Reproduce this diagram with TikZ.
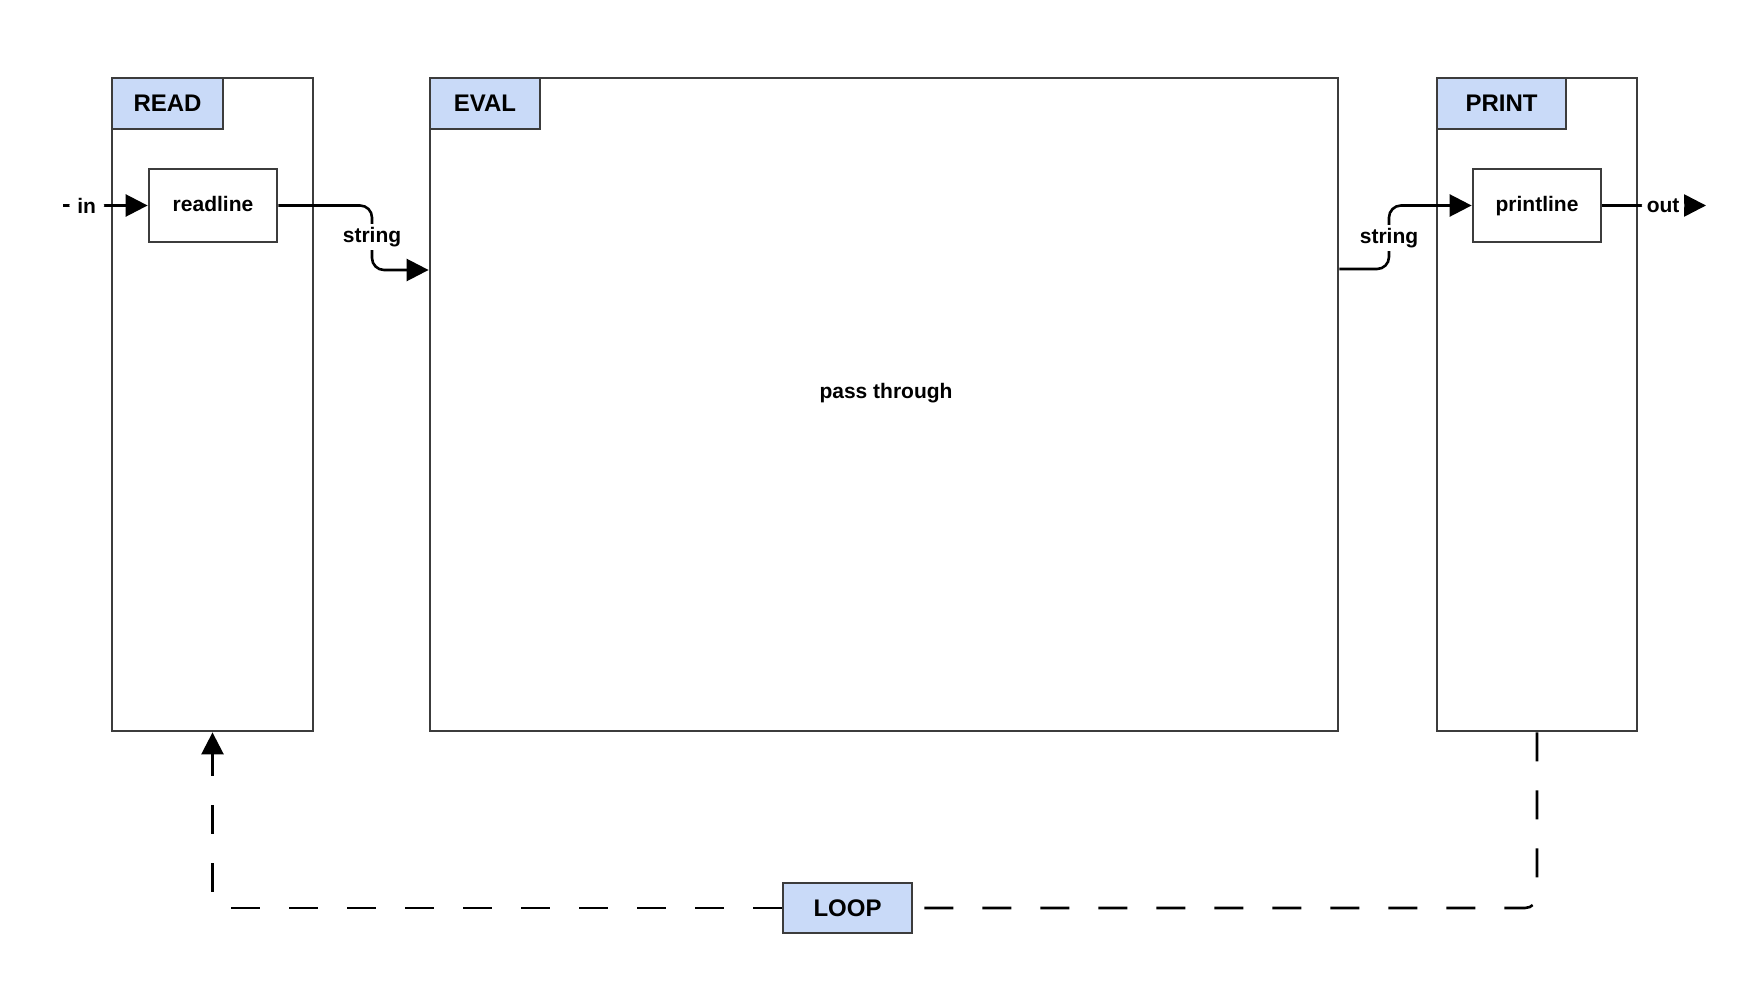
\documentclass[tikz,border=0pt]{standalone}
\usepackage{fontspec}
\setmainfont{Liberation Sans}
\usetikzlibrary{arrows.meta}
\definecolor{hdrfill}{RGB}{201,218,248}
\definecolor{boxline}{RGB}{60,60,60}
\begin{document}
\begin{tikzpicture}[x=0.5pt,y=-0.5pt,
 container/.style={draw=boxline,line width=1.4pt,fill=white,inner sep=0pt},
 header/.style={draw=boxline,line width=1.4pt,fill=hdrfill,inner sep=0pt,minimum height=25.5pt,font=\bfseries\fontsize{12}{14}\selectfont,anchor=north west},
 fn/.style={draw=boxline,line width=1.4pt,fill=white,minimum width=64pt,minimum height=36.5pt,inner sep=0pt,text height=8pt,text depth=2pt,font=\bfseries\fontsize{10.5}{12}\selectfont},
 lbl/.style={fill=white,inner sep=1.5pt,font=\bfseries\fontsize{10.5}{12}\selectfont},
 txt/.style={inner sep=0pt,font=\bfseries\fontsize{10.5}{12}\selectfont},
 tip/.style={-{Triangle[length=11pt,width=11pt]}},
 flow/.style={draw=black,line width=1.3pt,rounded corners=6pt,tip},
 loopline/.style={draw=black,line width=1.3pt,dash pattern=on 14.5pt off 14.5pt,rounded corners=6pt}
]
\useasboundingbox (0,0) rectangle (1750,994);
% containers
\node[container,minimum width=100.5pt,minimum height=326.5pt] (read) at (212.5,404.5) {};
\node[container,minimum width=454pt,minimum height=326.5pt] (eval) at (884,404.5) {};
\node[container,minimum width=100pt,minimum height=326.5pt] (print) at (1537,404.5) {};
\node[header,minimum width=55.5pt] (readhdr) at (read.north west) {READ};
\node[header,minimum width=55pt] (evalhdr) at (eval.north west) {EVAL};
\node[header,minimum width=64.5pt] (printhdr) at (print.north west) {PRINT};
\node[txt] (pass) at (886,393) {pass through};
% functions
\node[fn] (readline) at (213,205.5) {readline};
\node[fn] (printline) at (1537,205.5) {printline};
\node[header,anchor=center,minimum width=64.5pt,minimum height=25pt] (loop) at (847.5,908) {LOOP};
% helper coordinates
\coordinate (inS) at (63,205.5);
\coordinate (outE) at (1706,205.5);
\coordinate (yA) at (0,270);
\coordinate (yB) at (0,269);
\coordinate (midA) at (372,237);
\coordinate (midB) at (1389,238);
\coordinate (evalIn) at (eval.west |- yA);
\coordinate (evalOut) at (eval.east |- yB);
% connectors
\draw[flow] (inS) -- node[lbl,pos=0.28,inner xsep=4pt] (inlbl) {in} (readline.west);
\draw[flow] (readline.east) -| (midA) |- (evalIn);
\node[lbl] (strA) at (midA) {string};
\draw[flow] (evalOut) -| (midB) |- (printline.west);
\node[lbl] (strB) at (midB) {string};
\draw[flow] (printline.east) -- node[lbl,pos=0.586,inner xsep=2.5pt] (outlbl) {out} (outE);
% loop
\draw[loopline] (print.south) |- (loop.east);
\draw[loopline,tip] (loop.west) -| (read.south);
\end{tikzpicture}
\end{document}
